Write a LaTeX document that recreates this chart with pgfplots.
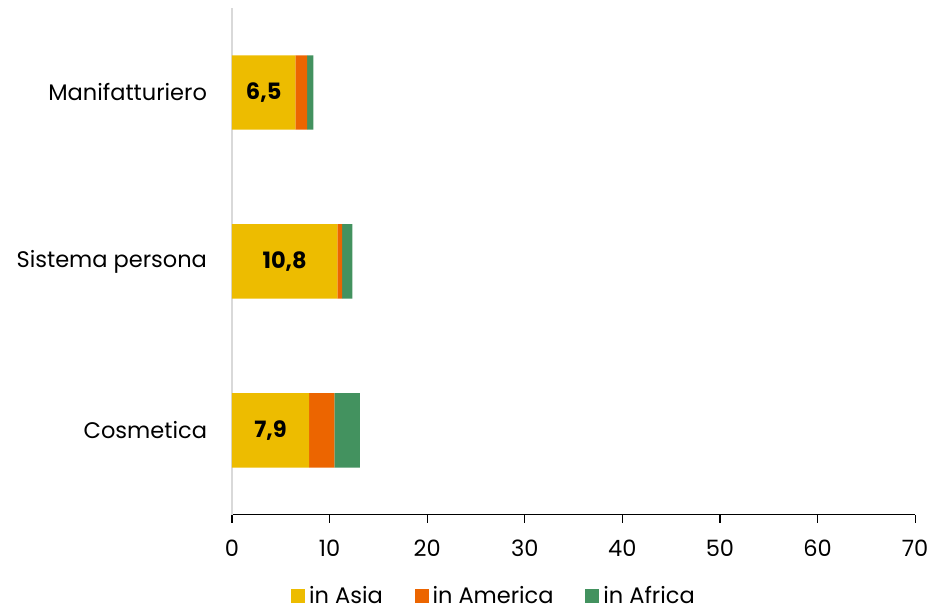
\documentclass[border=0pt]{standalone}
\usepackage{pgfplots}
\pgfplotsset{compat=1.18}
\usepackage{fontspec}
\setmainfont{Poppins}
\definecolor{asia}{HTML}{EDBC00}
\definecolor{amer}{HTML}{EC6500}
\definecolor{afr}{HTML}{43925F}
\begin{document}
\begin{tikzpicture}
\begin{axis}[
  name=ax,
  scale only axis,
  width=343pt, height=254.5pt,
  xbar stacked,
  bar width=0.44,
  xmin=0, xmax=70,
  ymin=-0.5, ymax=2.5,
  ytick={0,1,2},
  yticklabels={Cosmetica,Sistema persona,Manifatturiero},
  xtick={0,10,...,70},
  font=\fontsize{11.3}{13}\selectfont,
  /pgf/number format/assume math mode=true,
  axis x line*=bottom,
  axis y line*=left,
  x axis line style={black, line width=0.6pt, -},
  y axis line style={draw=black!15, line width=1pt, -},
  ytick style={draw=none},
  xtick style={black, line width=0.6pt},
  xtick pos=bottom,
  tick align=outside,
  major tick length=4pt,
  xticklabel style={yshift=-5pt},
  yticklabel style={xshift=-5pt},
  legend style={draw=none, at={(0.385,-0.16)}, anchor=center, legend columns=3,
    /tikz/every even column/.append style={column sep=14pt}, font=\fontsize{11.3}{13}\selectfont},
  legend image code/.code={\fill[#1] (0pt,-3.5pt) rectangle (7pt,3.5pt);},
  legend cell align=left,
]
\addplot[fill=asia, draw=none,
  nodes near coords={\pgfmathprintnumber[fixed, fixed zerofill, precision=1, use comma]{\pgfplotspointmeta}},
  every node near coord/.append style={anchor=center, font=\fontsize{11.3}{13}\selectfont\bfseries, text=black},
] coordinates {(7.9,0) (10.8,1) (6.5,2)};
\addplot[fill=amer, draw=none] coordinates {(2.6,0) (0.5,1) (1.2,2)};
\addplot[fill=afr, draw=none] coordinates {(2.6,0) (1.05,1) (0.65,2)};
\legend{in Asia, in America, in Africa}
\end{axis}
\path (ax.north west) ++(0,4pt) coordinate (topext);
\path (topext) -- (ax.north east);
\path (ax.south east) ++(9pt,0) coordinate (rext);
\path (rext) -- (ax.south east);
\path (current bounding box.west) ++(-5pt,0) coordinate (lext);
\path (lext) -- (ax.west);
\end{tikzpicture}
\end{document}
